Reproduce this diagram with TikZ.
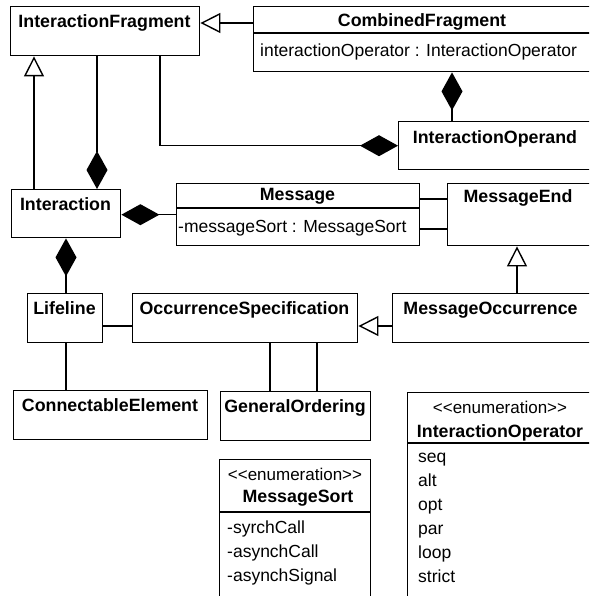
\documentclass[tikz,border=0pt]{standalone}
\usepackage{fontspec}
\setmainfont[Ligatures=TeXOff]{Liberation Sans}
\usetikzlibrary{arrows.meta}
\begin{document}
\begin{tikzpicture}[x=1pt,y=-1pt,
  box/.style={draw, line width=1.4pt, inner sep=0pt, anchor=north west},
  title/.style={font=\fontsize{17.8}{20}\selectfont\bfseries, anchor=base, inner sep=0pt},
  attr/.style={font=\fontsize{17.5}{20}\selectfont, anchor=base west, inner sep=0pt},
  stereo/.style={font=\fontsize{17}{19}\selectfont, anchor=base, inner sep=0pt},
  link/.style={line width=1.4pt},
  compo/.style={link, -{Diamond[length=38pt,width=21pt,fill=black]}},
  gener/.style={link, -{Triangle[open,length=20pt,width=20pt,fill=white]}},
]
\useasboundingbox (0,0) rectangle (589,596);
\clip (0,0) rectangle (589,596);

% class boxes
\node[box, minimum width=189pt, minimum height=49pt] (IF)  at (10,6)   {};
\node[box, minimum width=339pt, minimum height=65pt] (CF)  at (253,6)  {};
\node[box, minimum width=194pt, minimum height=48pt] (IO)  at (398,121){};
\node[box, minimum width=109pt, minimum height=48pt] (Int) at (11,189) {};
\node[box, minimum width=243pt, minimum height=62pt] (Msg) at (176,183){};
\node[box, minimum width=145pt, minimum height=62pt] (ME)  at (447,183){};
\node[box, minimum width=75pt,  minimum height=49pt] (LL)  at (27,293) {};
\node[box, minimum width=225pt, minimum height=49pt] (OS)  at (132,293){};
\node[box, minimum width=200pt, minimum height=49pt] (MO)  at (392,293){};
\node[box, minimum width=194pt, minimum height=49pt] (CE)  at (13,390) {};
\node[box, minimum width=150pt, minimum height=49pt] (GO)  at (220,391){};
\node[box, minimum width=185pt, minimum height=220pt] (IOp) at (407,392){};
\node[box, minimum width=151pt, minimum height=150pt] (MS)  at (219,459){};

% compartment separators
\coordinate (sCF) at (0,33);
\coordinate (sMsg) at (0,208);
\coordinate (sIOp) at (0,443);
\coordinate (sMS) at (0,512);
\draw[link] (CF.west |- sCF) -- (CF.east |- sCF);
\draw[link] (Msg.west |- sMsg) -- (Msg.east |- sMsg);
\draw[link] (IOp.west |- sIOp) -- (IOp.east |- sIOp);
\draw[link] (MS.west |- sMS) -- (MS.east |- sMS);

% names and attributes
\node[title] (IFt)  at (104.5,28) {InteractionFragment};
\node[title] (CFt)  at (422,27)   {CombinedFragment};
\node[attr]  (CFa)  at (260,57)   {interactionOperator : InteractionOperator};
\node[title] (IOt)  at (495,143)  {InteractionOperand};
\node[title] (Intt) at (65.5,210) {Interaction};
\node[title] (Msgt) at (297.5,200){Message};
\node[attr]  (Msga) at (178,232)  {-messageSort : MessageSort};
\node[title] (MEt)  at (518,202)  {MessageEnd};
\node[title] (LLt)  at (64.5,314) {Lifeline};
\node[title] (OSt)  at (244.5,314){OccurrenceSpecification};
\node[title] (MOt)  at (490.5,314){MessageOccurrence};
\node[title] (CEt)  at (110,411)  {ConnectableElement};
\node[title] (GOt)  at (295,412)  {GeneralOrdering};

\node[stereo] (IOps) at (500,413) {<<enumeration>>};
\node[title]  (IOpt) at (500,437) {InteractionOperator};
\node[attr] (i1) at (418,462) {seq};
\node[attr] (i2) at (418,486) {alt};
\node[attr] (i3) at (418,510) {opt};
\node[attr] (i4) at (418,534) {par};
\node[attr] (i5) at (418,558) {loop};
\node[attr] (i6) at (418,582) {strict};

\node[stereo] (MSs) at (295,480) {<<enumeration>>};
\node[title]  (MSt) at (298,502) {MessageSort};
\node[attr] (m1) at (227,533) {-syrchCall};
\node[attr] (m2) at (227,557) {-asynchCall};
\node[attr] (m3) at (227,581) {-asynchSignal};

% routing helpers
\coordinate (yGen) at (0,23);
\coordinate (yOS) at (0,326);
\coordinate (yM1) at (0,199);
\coordinate (yM2) at (0,229);
\coordinate (xInh) at (34,0);
\coordinate (xOwn) at (97,0);
\coordinate (xOp) at (160,0);
\coordinate (xCF) at (452,0);
\coordinate (xLL) at (66,0);
\coordinate (xME) at (517,0);
\coordinate (xG1) at (270,0);
\coordinate (xG2) at (317,0);

% generalizations
\draw[gener] (CF.west |- yGen) -- (IF.east |- yGen);
\draw[gener] (Int.north -| xInh) -- (IF.south -| xInh);
\draw[gener] (MO.north -| xME) -- (ME.south -| xME);
\draw[gener] (MO.west |- yOS) -- (OS.east |- yOS);

% compositions
\draw[compo] (IF.south -| xOwn) -- (Int.north -| xOwn);
\draw[compo] (IF.south -| xOp) |- (IO.west);
\draw[compo] (IO.north -| xCF) -- (CF.south -| xCF);
\draw[compo] (Msg.west) -- (Int.east |- Msg.west);
\draw[compo] (LL.north -| xLL) -- (Int.south -| xLL);

% associations
\draw[link] (Msg.east |- yM1) -- (ME.west |- yM1);
\draw[link] (Msg.east |- yM2) -- (ME.west |- yM2);
\draw[link] (LL.east |- yOS) -- (OS.west |- yOS);
\draw[link] (LL.south -| xLL) -- (CE.north -| xLL);
\draw[link] (OS.south -| xG1) -- (GO.north -| xG1);
\draw[link] (OS.south -| xG2) -- (GO.north -| xG2);
\end{tikzpicture}
\end{document}
